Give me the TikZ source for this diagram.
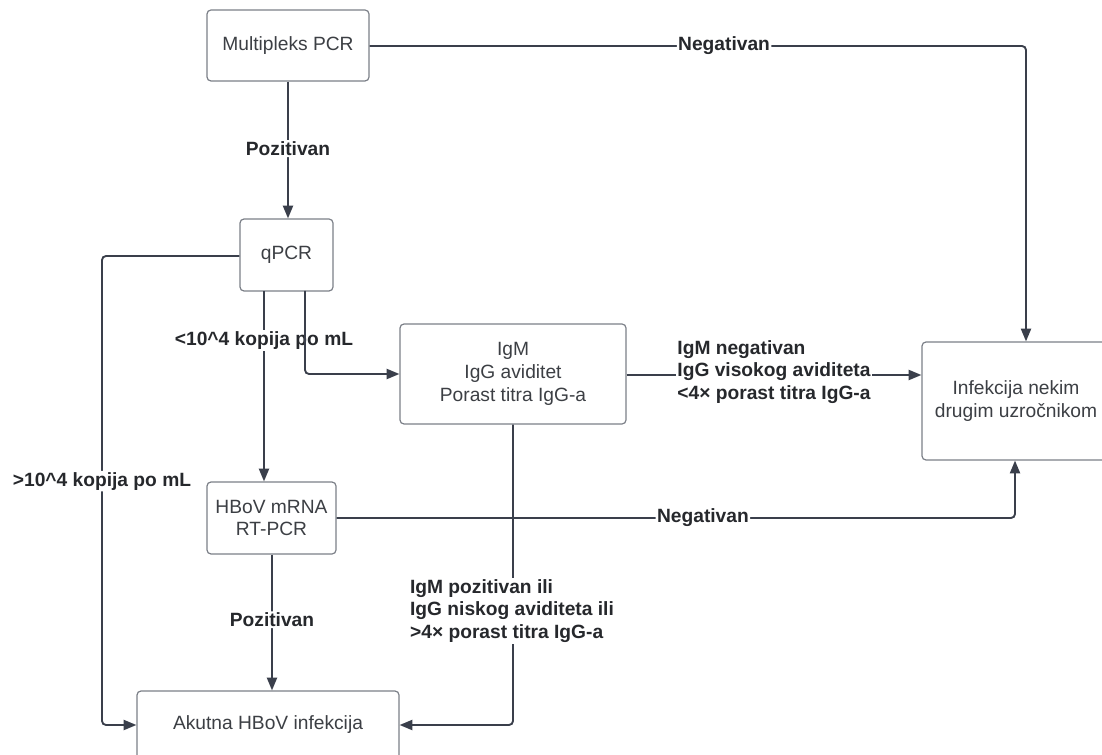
\documentclass[tikz,border=0pt]{standalone}
\usepackage{fontspec}
\setmainfont{Liberation Sans}
\usetikzlibrary{arrows.meta,calc}
\definecolor{linec}{HTML}{3A3F4B}
\definecolor{boxc}{HTML}{7C8088}
\definecolor{boxtxt}{HTML}{3C3F44}
\definecolor{labtxt}{HTML}{26282C}
\tikzset{
  flowbox/.style={draw=boxc, line width=0.9pt, rounded corners=3pt, inner sep=0pt,
    align=center, text=boxtxt, font=\fontsize{14.4pt}{17pt}\selectfont},
  conn/.style={draw=linec, line width=1.4pt, rounded corners=3pt},
  arr/.style={conn, -{Triangle[length=9.5pt,width=7.5pt]}},
  lab/.style={fill=white, inner sep=1pt, text=labtxt, font=\bfseries\fontsize{14.4pt}{17pt}\selectfont},
}
\begin{document}
\begin{tikzpicture}[x=0.75pt,y=-0.75pt]
\useasboundingbox (0,0) rectangle (1102,755);
\clip (0,0) rectangle (1102,755);
\fill[white] (0,0) rectangle (1102,755);
% boxes
\node[flowbox, minimum width=121.5pt, minimum height=53.25pt] (mpcr) at (288,45.5) {Multipleks PCR};
\node[flowbox, minimum width=69.75pt, minimum height=54pt] (qpcr) at (286.5,255) {qPCR};
\node[flowbox, minimum width=169.5pt, minimum height=75pt] (igm) at (513,374) {IgM\\IgG aviditet\\Porast titra IgG-a};
\node[flowbox, minimum width=141pt, minimum height=88.5pt] (inf) at (1016,401) {Infekcija nekim\\drugim uzročnikom};
\node[flowbox, minimum width=96.75pt, minimum height=54pt] (hbov) at (271.5,518) {HBoV mRNA\\RT-PCR};
\node[flowbox, minimum width=196.5pt, minimum height=51pt] (akut) at (268,725) {Akutna HBoV infekcija};
% helper coordinates
\coordinate (c1) at (1026,46);
\coordinate (q1) at (264,291);
\coordinate (q2) at (305,291);
\coordinate (q2b) at (305,374);
\coordinate (l1) at (102,256);
\coordinate (l2) at (102,725);
\coordinate (n1) at (1015,518);
\coordinate (g1) at (513,725);
% connectors
\draw[arr] (mpcr.south) -- (mpcr.south |- qpcr.north)
  node[lab, pos=0.49] {Pozitivan};
\draw[arr] (mpcr.east |- c1) -- node[lab, pos=0.54] {Negativan} (c1) -- (c1 |- inf.north);
\draw[arr] (q1) -- node[lab, pos=0.26] {<10\^{}4 kopija po mL} (q1 |- hbov.north);
\draw[arr] (q2) -- (q2b) -- (igm.west |- q2b);
\draw[arr] (qpcr.west |- l1) -- (l1) -- node[lab, pos=0.48] {>10\^{}4 kopija po mL} (l2) -- (akut.west |- l2);
\draw[arr] (igm.east |- 0,375) -- (inf.west |- 0,375);
\node[lab, align=left] (lab1) at (774,372) {IgM negativan\\IgG visokog aviditeta\\<4× porast titra IgG-a};
\draw[arr] (hbov.east |- n1) -- node[lab, pos=0.54] {Negativan} (n1) -- (n1 |- inf.south);
\draw[arr] (hbov.south -| 272,0) -- node[lab, pos=0.48] {Pozitivan} (akut.north -| 272,0);
\draw[arr] (igm.south) -- (g1) -- (akut.east |- g1);
\node[lab, align=left] (lab2) at (512,611) {IgM pozitivan ili\\IgG niskog aviditeta ili\\>4× porast titra IgG-a};
\end{tikzpicture}
\end{document}
